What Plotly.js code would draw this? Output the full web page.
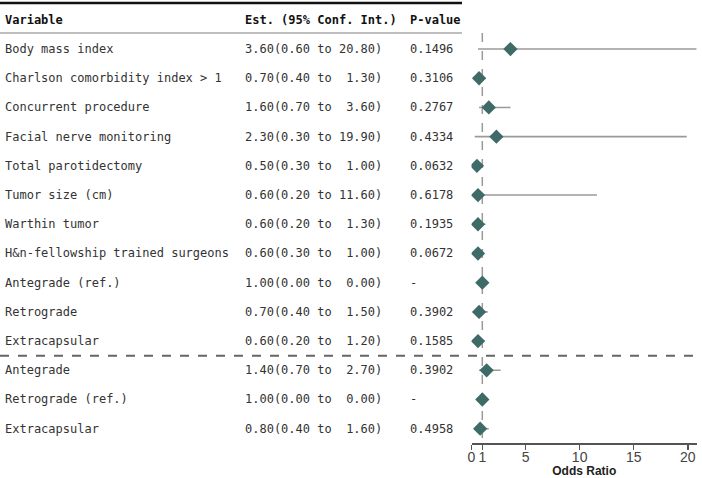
<!DOCTYPE html>
<html>
<head>
<meta charset="utf-8">
<script src="https://cdn.plot.ly/plotly-3.0.1.min.js"></script>
<style>
  html, body { margin: 0; padding: 0; background: #fff; }
  #chart { width: 702px; height: 478px; }
</style>
</head>
<body>
<div id="chart"></div>
<script>
// Forest plot: odds ratios with 95% confidence intervals
const variables = [
  "Body mass index",
  "Charlson comorbidity index > 1",
  "Concurrent procedure",
  "Facial nerve monitoring",
  "Total parotidectomy",
  "Tumor size (cm)",
  "Warthin tumor",
  "H&n-fellowship trained surgeons",
  "Antegrade (ref.)",
  "Retrograde",
  "Extracapsular",
  "Antegrade",
  "Retrograde (ref.)",
  "Extracapsular"
];
const estimates = [3.60, 0.70, 1.60, 2.30, 0.50, 0.60, 0.60, 0.60, 1.00, 0.70, 0.60, 1.40, 1.00, 0.80];
const ciLower   = [0.60, 0.40, 0.70, 0.30, 0.30, 0.20, 0.20, 0.30, 0.00, 0.40, 0.20, 0.70, 0.00, 0.40];
const ciUpper   = [20.80, 1.30, 3.60, 19.90, 1.00, 11.60, 1.30, 1.00, 0.00, 1.50, 1.20, 2.70, 0.00, 1.60];
const pValues   = ["0.1496", "0.3106", "0.2767", "0.4334", "0.0632", "0.6178", "0.1935", "0.0672", "-", "0.3902", "0.1585", "0.3902", "-", "0.4958"];
const tickValues = [0, 1, 5, 10, 15, 20];
const tickLabels = ["0", "1", "5", "10", "15", "20"];
const groupBreakAfter = 10; // dashed separator below this row

const rows = variables.map((_, i) => i);
const NB = "\u00a0";
const pad = (s, n) => NB.repeat(Math.max(0, n - s.length)) + s;
const estText = rows.map(i =>
  estimates[i].toFixed(2) + "(" + ciLower[i].toFixed(2) + NB + "to" + NB +
  pad(ciUpper[i].toFixed(2), 5) + ")"
);

const W = 702;
const mono = "DejaVu Sans Mono, monospace";
const markColor = "#3e6b68";

// confidence interval segments (reference rows have an empty interval)
const ciX = [], ciY = [];
rows.forEach(i => {
  if (ciUpper[i] > ciLower[i]) {
    ciX.push(ciLower[i], ciUpper[i], null);
    ciY.push(i, i, null);
  }
});

const traces = [
  {
    type: "scatter", mode: "lines", x: ciX, y: ciY,
    line: { color: "#9a9a9a", width: 1.6 }, hoverinfo: "skip", showlegend: false
  },
  {
    type: "scatter", mode: "markers", x: estimates, y: rows,
    marker: { symbol: "diamond", size: 11, color: markColor },
    showlegend: false
  }
];

const annotations = [];
const addText = (x, y, text, opts = {}) => annotations.push(Object.assign({
  xref: "paper", yref: "y", x: x / W, y: y, text: text, showarrow: false,
  xanchor: "left", yanchor: "middle",
  font: { family: mono, size: 12, color: "#333" }
}, opts));

// column headers
const headFont = { family: mono, size: 12, color: "#111" };
addText(3, -1, "<b>Variable</b>", { font: headFont });
addText(243, -1, "<b>Est." + NB + "(95%" + NB + "Conf." + NB + "Int.)</b>", { font: headFont });
addText(408, -1, "<b>P-value</b>", { font: headFont });

rows.forEach(i => {
  addText(3, i, variables[i]);
  addText(243, i, estText[i]);
  addText(408, i, pValues[i]);
});

const shapes = [
  // top rule
  { type: "line", xref: "paper", yref: "y", x0: 0, x1: 462 / W, y0: -1.58, y1: -1.58,
    line: { color: "#111", width: 2.5 } },
  // header underline
  { type: "line", xref: "paper", yref: "y", x0: 0, x1: 462 / W, y0: -0.55, y1: -0.55,
    line: { color: "#aaa", width: 1.5 } },
  // group separator
  { type: "line", xref: "paper", yref: "y", x0: 0, x1: 1,
    y0: groupBreakAfter + 0.5, y1: groupBreakAfter + 0.5,
    line: { color: "#666", width: 2, dash: "dash" } },
  // null effect line at OR = 1
  { type: "line", xref: "x", yref: "y", x0: 1, x1: 1, y0: -0.55, y1: 13.5,
    line: { color: "#999", width: 1.5, dash: "dash" }, layer: "below" }
];

const layout = {
  width: 702, height: 478,
  margin: { l: 0, r: 0, t: 0, b: 35, pad: 0 },
  paper_bgcolor: "#fff", plot_bgcolor: "#fff",
  showlegend: false,
  xaxis: {
    domain: [471.5 / W, 697 / W],
    range: [0, 20.85],
    tickvals: tickValues, ticktext: tickLabels,
    showgrid: false, zeroline: false,
    showline: true, linecolor: "#555", linewidth: 1.5,
    ticks: "outside", ticklen: 5, tickcolor: "#555", tickwidth: 1.5,
    ticklabelstandoff: -4,
    tickfont: { family: "Liberation Sans, Arial, sans-serif", size: 14, color: "#444" },
    title: { text: "<b>Odds Ratio</b>", standoff: 2,
      font: { family: "Liberation Sans, Arial, sans-serif", size: 12, color: "#222" } },
    fixedrange: true
  },
  yaxis: {
    range: [13.49, -1.68],
    showgrid: false, zeroline: false, showline: false,
    showticklabels: false, ticks: "",
    fixedrange: true
  },
  annotations: annotations,
  shapes: shapes
};

Plotly.newPlot("chart", traces, layout, { displayModeBar: false, staticPlot: true });
</script>
</body>
</html>
